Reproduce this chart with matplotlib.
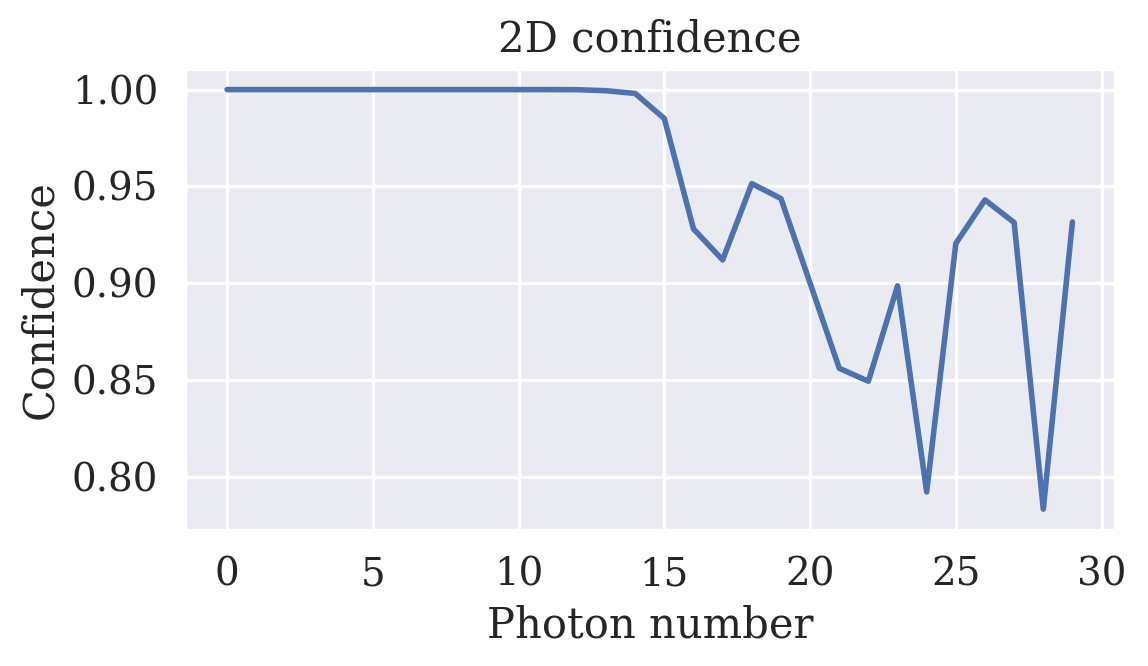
import numpy as np
import matplotlib
matplotlib.use("Agg")
import matplotlib.pyplot as plt
import seaborn as sns

# confidence per photon number
photon = list(range(30))
confidence = [1.0, 1.0, 1.0, 1.0, 1.0, 1.0, 1.0, 1.0, 1.0, 1.0,
              1.0, 1.0, 0.99995, 0.9994, 0.998, 0.985, 0.928, 0.912,
              0.9514, 0.9437, 0.900, 0.856, 0.8493, 0.8986, 0.7921,
              0.9205, 0.943, 0.9313, 0.7832, 0.9316]

sns.set_theme(style="darkgrid")
plt.rcParams['font.family'] = ['DejaVu Serif']
plt.rcParams['grid.linewidth'] = 1.2

fig, ax = plt.subplots(figsize=(5.74, 3.33), dpi=200)
fig.subplots_adjust(left=0.161, right=0.971, top=0.897, bottom=0.204)

ax.plot(photon, confidence, linewidth=2)
ax.set_title("2D confidence", fontsize=15)
ax.set_xlabel("Photon number", fontsize=15)
ax.set_ylabel("Confidence", fontsize=15)
ax.tick_params(labelsize=14)

fig.savefig("out.png", dpi=200)
